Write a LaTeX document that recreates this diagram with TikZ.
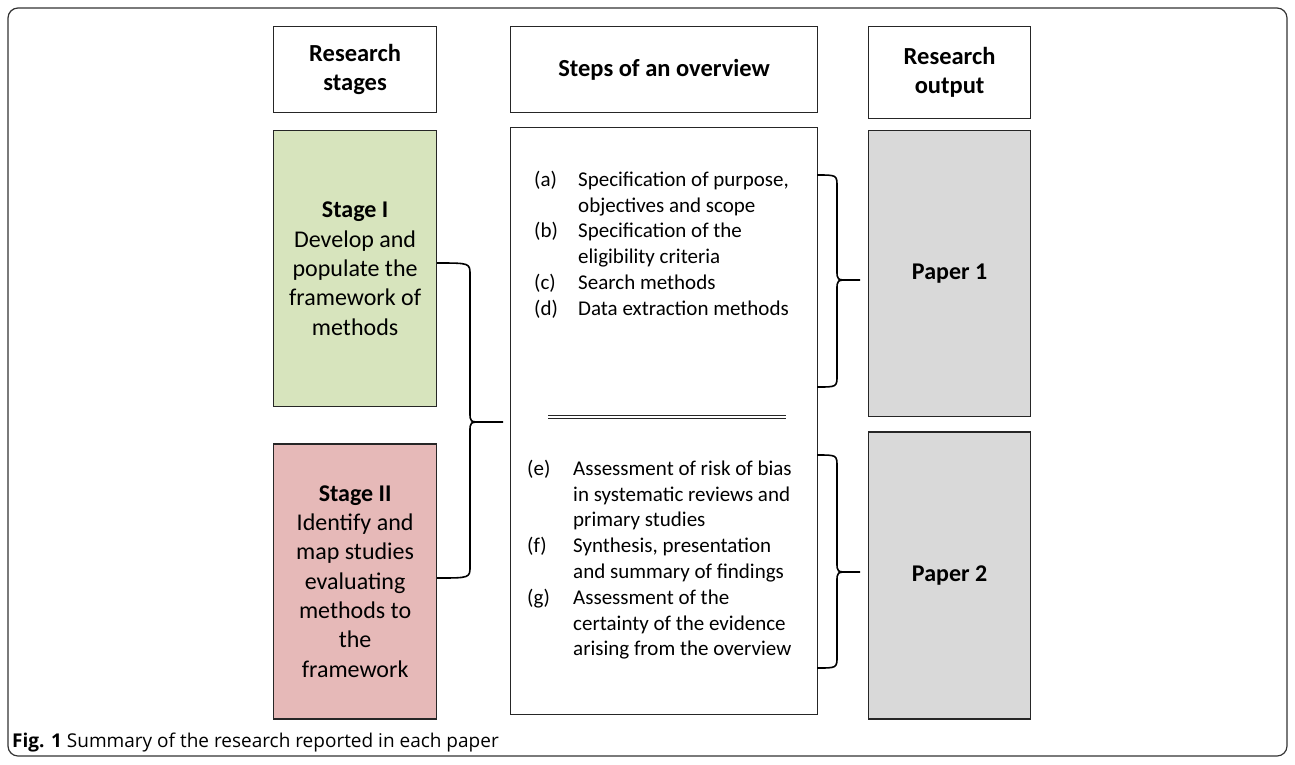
\documentclass[tikz,border=0pt]{standalone}
\usepackage{fontspec}
\setmainfont{Carlito}
\newfontfamily\capfont{Open Sans}
\usetikzlibrary{positioning}

\definecolor{stagegreen}{HTML}{D7E4BD}
\definecolor{stagered}{HTML}{E6B9B8}
\definecolor{papergray}{HTML}{D9D9D9}

% curly brace: start x, spine x, tip x, top y, tip y, bottom y
\newcommand{\curlybrace}[6]{%
  \draw[bracestyle] (#1,#4) .. controls (#2,#4) .. (#2,#4+12) -- (#2,#5-10)
    .. controls (#2,#5) .. (#2+12,#5) -- (#3,#5)
    (#2+12,#5) .. controls (#2,#5) .. (#2,#5+10) -- (#2,#6-12)
    .. controls (#2,#6) .. (#1,#6);}

\tikzset{
  box/.style={draw=black!85, line width=1.2pt, align=center, inner sep=0pt},
  headbox/.style={box, font=\bfseries\fontsize{24.5}{29}\selectfont, fill=white},
  stagebox/.style={box, minimum width=163pt, minimum height=276pt, font=\fontsize{24}{29.3}\selectfont},
  paperbox/.style={box, fill=papergray, minimum width=162pt, minimum height=287pt, font=\bfseries\fontsize{24}{28}\selectfont},
  steptext/.style={anchor=north west, inner sep=0pt, font=\fontsize{21}{25.8}\selectfont},
  bracestyle/.style={line width=1.6pt, line join=round}
}

\begin{document}
\begin{tikzpicture}[x=1pt, y=-1pt]
  \useasboundingbox (0,0) rectangle (1295,764);
  \draw[rounded corners=10pt, line width=1.2pt, draw=black!80] (8,8) rectangle (1287,756);

  % column headers
  \node[headbox, minimum width=163pt, minimum height=86pt, anchor=north west] (hstage) at (273,26) {Research\\stages};
  \node[headbox, minimum width=307pt, minimum height=86pt, anchor=north west] (hsteps) at (510,26) {Steps of an overview};
  \node[headbox, minimum width=162pt, minimum height=92pt, anchor=north west] (hout) at (868,26) {Research\\output};

  % stages
  \node[stagebox, fill=stagegreen, below=17pt of hstage] (stage1) {\textbf{Stage I}\\Develop and\\populate the\\framework of\\methods};
  \node[stagebox, fill=stagered, minimum height=275pt, below=36pt of stage1] (stage2) {\textbf{Stage II}\\Identify and\\map studies\\evaluating\\methods to\\the\\framework};

  % steps of the overview
  \node[box, minimum width=307pt, minimum height=587pt, anchor=north west] (steps) at (510,127) {};
  \node[steptext] (stepsA) at (534,168) {%
    \begin{tabular}{@{}p{44pt}@{}l@{}}
      (a) & Specification of purpose,\\
          & objectives and scope\\
      (b) & Specification of the\\
          & eligibility criteria\\
      (c) & Search methods\\
      (d) & Data extraction methods
    \end{tabular}};
  \node[steptext] (stepsB) at (527,457) {%
    \begin{tabular}{@{}p{46pt}@{}l@{}}
      (e) & Assessment of risk of bias\\
          & in systematic reviews and\\
          & primary studies\\
      (f) & Synthesis, presentation\\
          & and summary of findings\\
      (g) & Assessment of the\\
          & certainty of the evidence\\
          & arising from the overview
    \end{tabular}};
  \draw[double, double distance=2.4pt, line width=1pt, black!85] (548,417) -- (786,417);

  % outputs
  \node[paperbox, minimum height=286pt, below=11pt of hout] (paper1) {Paper 1};
  \node[paperbox, below=14pt of paper1] (paper2) {Paper 2};

  % braces
  \curlybrace{437}{470}{503}{263}{422}{578}
  \curlybrace{817}{837}{860}{175}{280}{387}
  \curlybrace{817}{837}{860}{455}{572}{668}

  % caption
  \node[anchor=base west, inner sep=0pt, font=\capfont\fontsize{19}{21}\selectfont] (caption) at (12,747)
    {\textbf{Fig. 1} Summary of the research reported in each paper};
\end{tikzpicture}
\end{document}
